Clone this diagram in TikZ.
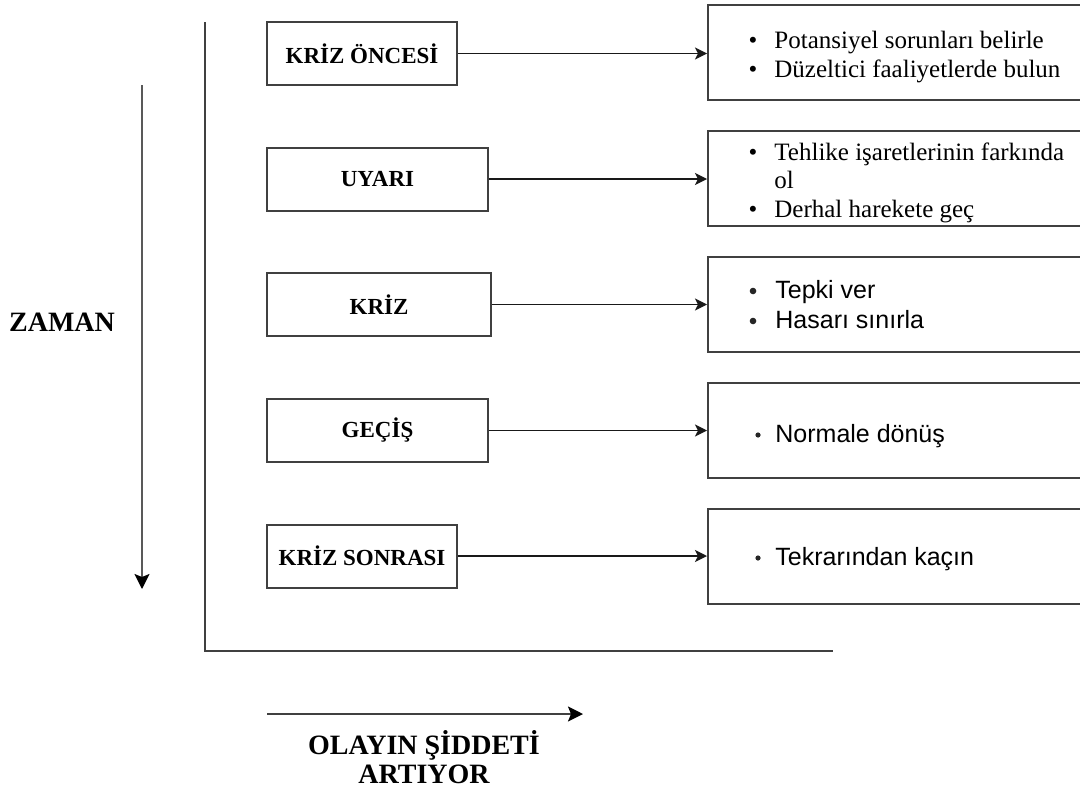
\documentclass[tikz,border=0pt]{standalone}
\usepackage{fontspec}
\setmainfont{Liberation Serif}
\newfontfamily\arialf{Liberation Sans}
\usetikzlibrary{arrows.meta}
\begin{document}
\begin{tikzpicture}[x=0.5pt,y=-0.5pt,
  lbox/.style={draw=black!75,line width=1pt,minimum height=31.5pt,inner sep=0pt,font=\fontsize{11.5}{13}\selectfont\bfseries},
  rbox/.style={draw=black!75,line width=1pt,minimum width=191pt,minimum height=47.5pt,inner sep=0pt},
  conn/.style={draw=black!90,line width=0.7pt,-{Stealth[length=6pt,width=6pt,inset=1.5pt]}},
  axis/.style={draw=black!75,line width=0.9pt},
  bigarrow/.style={line width=1pt,-{Stealth[length=7.5pt,width=7.5pt,inset=1.5pt,color=black,fill=black]}},
  ttext/.style={anchor=base west,inner sep=0pt,font=\fontsize{12.5}{14}\selectfont},
  atext/.style={anchor=base west,inner sep=0pt,font=\arialf\fontsize{12.5}{14}\selectfont},
  tbul/.style={anchor=base,inner sep=0pt,font=\fontsize{12.5}{14}\selectfont},
  sbul/.style={circle,fill=black!85,inner sep=0pt,minimum size=2.6pt},
  lab/.style={inner sep=0pt,font=\fontsize{14}{14.5}\selectfont\bfseries}
]
\useasboundingbox (0,0) rectangle (1080,787);
\clip (0,0) rectangle (1080,787);

% axes
\coordinate (atop) at (205,22);
\coordinate (acorner) at (205,651);
\coordinate (aend) at (833,651);
\draw[axis] (atop) -- (acorner) -- (aend);

% time arrow
\coordinate (tstart) at (142,85);
\coordinate (tend) at (142,589);
\draw[bigarrow,draw=black!65] (tstart) -- (tend);
\node[lab] (zaman) at (62,322) {ZAMAN};

% severity arrow
\coordinate (sstart) at (267,714);
\coordinate (send) at (583,714);
\draw[bigarrow,draw=black!75] (sstart) -- (send);
\node[lab,align=center] (siddet) at (424,757.5) {OLAYIN ŞİDDETİ\\ARTIYOR};

% left boxes
\node[lbox,minimum width=95pt] (l1) at (362,53.5) {KRİZ ÖNCESİ};
\node[lbox,minimum width=110.5pt] (l2) at (377.5,179) {UYARI};
\node[lbox,minimum width=112pt] (l3) at (379,304.5) {KRİZ};
\node[lbox,minimum width=110.5pt] (l4) at (377.5,430.5) {GEÇİŞ};
\node[lbox,minimum width=95pt] (l5) at (362,556) {KRİZ SONRASI};

% right boxes
\node[rbox] (r1) at (899,52.5) {};
\node[rbox] (r2) at (899,178.5) {};
\node[rbox] (r3) at (899,304.5) {};
\node[rbox] (r4) at (899,430.5) {};
\node[rbox] (r5) at (899,556) {};

% connectors
\foreach \i in {1,...,5}{
  \draw[conn] (l\i.east) -- (l\i.east -| r\i.west);
}

% texts box 1
\node[tbul] (b11) at (753,48) {•};
\node[ttext] (t11) at (774,48) {Potansiyel sorunları belirle};
\node[tbul] (b12) at (753,77) {•};
\node[ttext] (t12) at (774,77) {Düzeltici faaliyetlerde bulun};
% box 2
\node[tbul] (b21) at (753,160) {•};
\node[ttext] (t21) at (774,160) {Tehlike işaretlerinin farkında};
\node[ttext] (t22) at (774,188.5) {ol};
\node[tbul] (b23) at (753,217) {•};
\node[ttext] (t23) at (774,217) {Derhal harekete geç};
% box 3
\node[sbul,minimum size=3.3pt] (b31) at (753,291) {};
\node[atext] (t31) at (775,298) {Tepki ver};
\node[sbul,minimum size=3.3pt] (b32) at (753,321) {};
\node[atext] (t32) at (775,328) {Hasarı sınırla};
% box 4
\node[sbul] (b41) at (758,435) {};
\node[atext] (t41) at (775,442) {Normale dönüş};
% box 5
\node[sbul] (b51) at (758,558) {};
\node[atext] (t51) at (775,565) {Tekrarından kaçın};
\end{tikzpicture}
\end{document}
